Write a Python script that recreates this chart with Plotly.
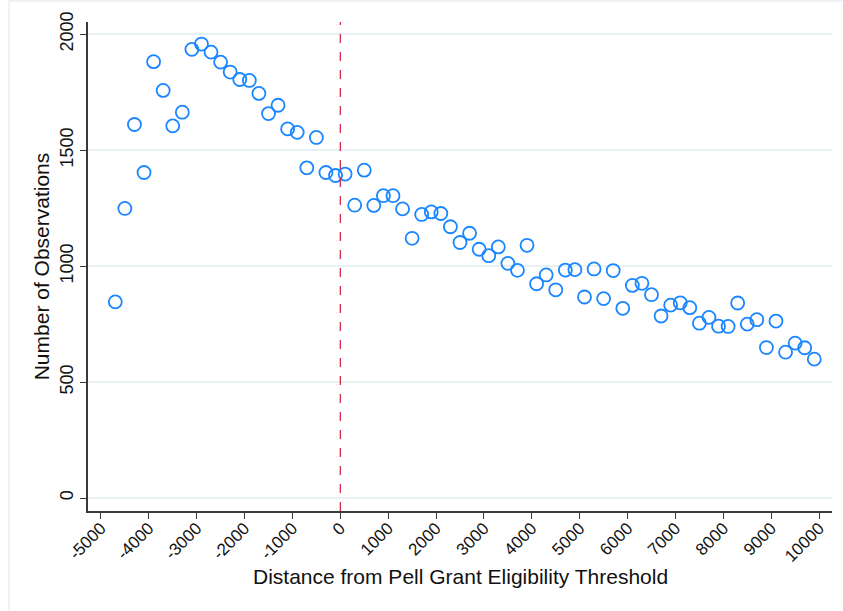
import plotly.graph_objects as go

# Bin midpoints (distance from the eligibility threshold) and counts per bin
distance = [
    -4700, -4500, -4300, -4100, -3900, -3700, -3500, -3300, -3100, -2900,
    -2700, -2500, -2300, -2100, -1900, -1700, -1500, -1300, -1100, -900,
    -700, -500, -300, -100, 100, 300, 500, 700, 900, 1100,
    1300, 1500, 1700, 1900, 2100, 2300, 2500, 2700, 2900, 3100,
    3300, 3500, 3700, 3900, 4100, 4300, 4500, 4700, 4900, 5100,
    5300, 5500, 5700, 5900, 6100, 6300, 6500, 6700, 6900, 7100,
    7300, 7500, 7700, 7900, 8100, 8300, 8500, 8700, 8900, 9100,
    9300, 9500, 9700, 9900,
]
observations = [
    846, 1249, 1611, 1404, 1882, 1758, 1605, 1664, 1935, 1958,
    1923, 1880, 1837, 1805, 1801, 1745, 1658, 1694, 1592, 1577,
    1424, 1555, 1404, 1391, 1397, 1263, 1414, 1262, 1304, 1304,
    1247, 1120, 1223, 1234, 1227, 1170, 1102, 1142, 1073, 1045,
    1083, 1012, 982, 1090, 924, 962, 898, 983, 985, 867,
    988, 860, 981, 818, 917, 926, 877, 785, 832, 842,
    821, 754, 779, 741, 740, 841, 750, 769, 649, 763,
    629, 668, 648, 599,
]

x_ticks = list(range(-5000, 10001, 1000))
y_ticks = [0, 500, 1000, 1500, 2000]
threshold = 0

FONT = "Liberation Sans, Arial, sans-serif"
GRID = "#e9f0f3"
AXIS = "#3a3a3a"

fig = go.Figure()
fig.add_trace(go.Scatter(
    x=distance, y=observations, mode="markers",
    marker=dict(symbol="circle-open", size=13, color="#1a86ff",
                line=dict(width=1.8, color="#1a86ff")),
    showlegend=False, hoverinfo="x+y",
))

# eligibility threshold
fig.add_shape(type="line", xref="x", yref="paper", x0=threshold, x1=threshold,
              y0=0, y1=1, line=dict(color="#d11a3c", width=1.2, dash="dash"),
              layer="above")

# faint outer graph-region frame
fig.add_shape(type="rect", xref="paper", yref="paper", x0=-0.106, x1=1.2,
              y0=-0.4, y1=1.043, line=dict(color="#e3ecf0", width=1.2),
              fillcolor="rgba(0,0,0,0)", layer="below")

# x-axis title placed as an annotation below the rotated tick labels
fig.add_annotation(text="Distance from Pell Grant Eligibility Threshold",
                   xref="paper", yref="paper", x=0.5, y=-0.134,
                   xanchor="center", yanchor="middle", showarrow=False,
                   font=dict(size=21, family=FONT, color="#111111"))

fig.update_layout(
    width=843, height=611,
    margin=dict(l=88, r=11, t=22, b=100),
    paper_bgcolor="white", plot_bgcolor="white",
    font=dict(family=FONT, color="#111111"),
    xaxis=dict(
        range=[-5270, 10270], tickmode="array", tickvals=x_ticks,
        ticktext=[str(v) for v in x_ticks], tickangle=-45,
        tickfont=dict(size=17, family=FONT, color="#111111"),
        ticks="outside", ticklen=6, tickwidth=1.3, tickcolor=AXIS,
        ticklabelstandoff=-7,
        showline=True, linecolor=AXIS, linewidth=1.5,
        showgrid=False, zeroline=False,
    ),
    yaxis=dict(
        range=[-56, 2053], tickmode="array", tickvals=y_ticks,
        ticktext=[str(v) for v in y_ticks], tickangle=-90,
        tickfont=dict(size=18, family=FONT, color="#111111"),
        ticks="outside", ticklen=6, tickwidth=1.3, tickcolor=AXIS,
        showline=True, linecolor=AXIS, linewidth=1.5,
        showgrid=True, gridcolor=GRID, gridwidth=1.5, zeroline=False,
        title=dict(text="Number of Observations",
                   font=dict(size=21, family=FONT, color="#111111"), standoff=2),
    ),
)

fig.write_html("out.html")
